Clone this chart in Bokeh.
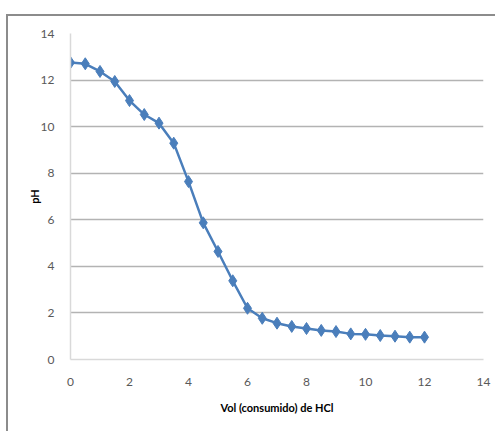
from bokeh.plotting import figure
from bokeh.models import ColumnDataSource, Range1d, FixedTicker
from bokeh.embed import file_html
from bokeh.resources import INLINE

vol = [0, 0.5, 1, 1.5, 2, 2.5, 3, 3.5, 4, 4.5, 5, 5.5, 6, 6.5, 7, 7.5, 8, 8.5, 9, 9.5, 10, 10.5, 11, 11.5, 12]
ph = [12.75, 12.7, 12.37, 11.94, 11.12, 10.52, 10.15, 9.29, 7.64, 5.87, 4.64, 3.38, 2.2, 1.77, 1.56, 1.42, 1.33, 1.25, 1.2, 1.1, 1.08, 1.03, 1.0, 0.96, 0.96]
x_ticks = [0, 2, 4, 6, 8, 10, 12, 14]
y_ticks = [0, 2, 4, 6, 8, 10, 12, 14]
x_title = "Vol (consumido) de HCl"
y_title = "pH"

src = ColumnDataSource(dict(x=vol, y=ph))

p = figure(output_backend="svg", toolbar_location=None,
           frame_width=413, frame_height=326,
           min_border_left=62, min_border_top=17, min_border_right=12, min_border_bottom=72,
           x_range=Range1d(0, 14), y_range=Range1d(0, 14))
p.styles = {"border-top": "2px solid #8c8c8c", "border-left": "2px solid #8c8c8c",
            "margin-top": "14px", "margin-left": "6px"}
p.outline_line_color = None

line_color = "#4a7ebb"
p.line("x", "y", source=src, line_color=line_color, line_width=2.5)
p.scatter("x", "y", source=src, marker="diamond", size=12, fill_color=line_color, line_color=line_color)

p.xaxis.ticker = FixedTicker(ticks=x_ticks)
p.yaxis.ticker = FixedTicker(ticks=y_ticks)
p.xgrid.grid_line_color = None
p.ygrid.ticker = FixedTicker(ticks=y_ticks)
p.ygrid.grid_line_color = "#b3b3b3"
p.ygrid.grid_line_width = 1.5

for ax in (p.xaxis[0], p.yaxis[0]):
    ax.axis_line_color = "#d9d9d9"
    ax.axis_line_width = 1.5
    ax.major_tick_line_color = None
    ax.minor_tick_line_color = None
    ax.major_label_text_font = "Lato"
    ax.major_label_text_font_size = "12px"
    ax.major_label_text_color = "#595959"
    ax.axis_label_text_font = "Lato"
    ax.axis_label_text_font_size = "11px"
    ax.axis_label_text_font_style = "bold"
    ax.axis_label_text_color = "#000000"

p.xaxis.axis_label = x_title
p.yaxis.axis_label = y_title
p.xaxis.major_label_standoff = 12
p.yaxis.major_label_standoff = 10
p.xaxis.axis_label_standoff = 12
p.yaxis.axis_label_standoff = -3

open("out.html", "w").write(file_html(p, INLINE))
